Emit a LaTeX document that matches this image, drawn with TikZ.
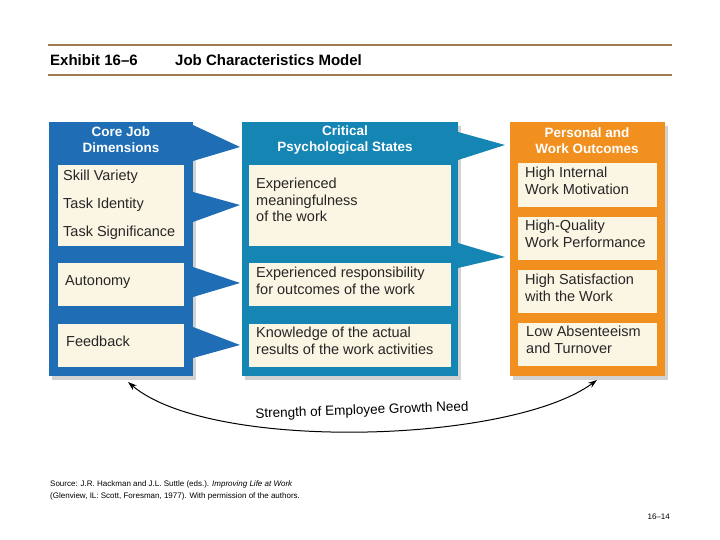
\documentclass[tikz,border=0pt]{standalone}
\usepackage{fontspec}
\setmainfont{Liberation Sans}
\usetikzlibrary{shadows,arrows.meta}
\definecolor{cblue}{HTML}{1F6DB5}
\definecolor{cteal}{HTML}{1585B4}
\definecolor{corange}{HTML}{F2901F}
\definecolor{ccream}{HTML}{FBF5E4}
\definecolor{cbrown}{HTML}{9C7B4C}
\tikzset{
 panel/.style={inner sep=0, drop shadow={shadow xshift=3pt,shadow yshift=-4pt,fill=black!35}},
 inbox/.style={fill=ccream, inner sep=0},
 ttl/.style={text=white, font=\bfseries\fontsize{13.5}{16}\selectfont, align=center},
 itxt/.style={font=\fontsize{14.5}{16.5}\selectfont, align=left, anchor=north west, inner sep=0, text=black!85},
}
\begin{document}
\begin{tikzpicture}[x=1pt,y=-1pt]
\useasboundingbox (0,0) rectangle (720,540);
\fill[white] (0,0) rectangle (720,540);
% header
\draw[cbrown, line width=2.5pt] (48,45) coordinate (h1) -- (672,45) coordinate (h2);
\draw[cbrown, line width=2.5pt] (48,75) coordinate (h3) -- (672,75) coordinate (h4);
\node[anchor=west, font=\bfseries\fontsize{15}{17}\selectfont, inner sep=0] (ex) at (50,60) {Exhibit 16–6};
\node[anchor=west, font=\bfseries\fontsize{15}{17}\selectfont, inner sep=0] (jc) at (175,60) {Job Characteristics Model};
% panels
\fill[cblue, panel] (49,122) rectangle (193,376);
\fill[cteal, panel] (242,122) rectangle (458,376);
\fill[corange, panel] (510,122) rectangle (665,376);
% triangles
\fill[cblue] (193,125) -- (240,147) -- (193,161) -- cycle;
\fill[cblue] (193,192) -- (240,205) -- (193,222) -- cycle;
\fill[cblue] (193,267) -- (240,283) -- (193,297) -- cycle;
\fill[cblue] (193,327) -- (240,345) -- (193,358) -- cycle;
\fill[cteal] (458,132) -- (505,145) -- (458,160) -- cycle;
\fill[cteal] (458,243) -- (505,257) -- (458,268) -- cycle;
% titles
\node[ttl] (t1) at (121,140) {Core Job\\Dimensions};
\node[ttl] (t2) at (345,140) {Critical\\Psychological States};
\node[ttl] (t3) at (587,141) {Personal and\\Work Outcomes};
% column 1
\fill[inbox] (58,165) rectangle (184,246);
\fill[inbox] (58,263) rectangle (184,306);
\fill[inbox] (58,324) rectangle (184,367);
\node[itxt] (a1) at (63,170) {Skill Variety};
\node[itxt] (a2) at (63,198) {Task Identity};
\node[itxt] (a3) at (63,226) {Task Significance};
\node[itxt] (a4) at (65,275) {Autonomy};
\node[itxt] (a5) at (66,336) {Feedback};
% column 2
\fill[inbox] (249,165) rectangle (451,246);
\fill[inbox] (249,263) rectangle (451,306);
\fill[inbox] (249,324) rectangle (451,367);
\node[itxt] (b1) at (256,178) {Experienced\\meaningfulness\\of the work};
\node[itxt] (b2) at (256,267) {Experienced responsibility\\for outcomes of the work};
\node[itxt] (b3) at (256,327) {Knowledge of the actual\\results of the work activities};
% column 3
\fill[inbox] (518,163) rectangle (657,207);
\fill[inbox] (518,217) rectangle (657,260);
\fill[inbox] (518,270) rectangle (657,313);
\fill[inbox] (518,323) rectangle (657,366);
\node[itxt] (c1) at (525,167) {High Internal\\Work Motivation};
\node[itxt] (c2) at (525,220) {High-Quality\\Work Performance};
\node[itxt] (c3) at (525,274) {High Satisfaction\\with the Work};
\node[itxt] (c4) at (526,326) {Low Absenteeism\\and Turnover};
% curved arrow
\coordinate (L) at (128,382);
\coordinate (R) at (597,380);
\draw[{Stealth[length=9pt,width=6pt]}-{Stealth[length=9pt,width=6pt]}, line width=1pt]
  (L) .. controls (210,452) and (510,444) .. (R);
\node[font=\fontsize{13.5}{15}\selectfont, rotate=2] (sg) at (362,411) {Strength of Employee Growth Need};
% source
\node[anchor=north west, inner sep=0, align=left, font=\fontsize{8}{12.5}\selectfont] (src) at (50,480)
 {Source: J.R. Hackman and J.L. Suttle (eds.). \textit{Improving Life at Work}\\(Glenview, IL: Scott, Foresman, 1977). With permission of the authors.};
\node[anchor=east, inner sep=0, font=\fontsize{8}{9}\selectfont] (pg) at (670,517) {16–14};
\end{tikzpicture}
\end{document}
